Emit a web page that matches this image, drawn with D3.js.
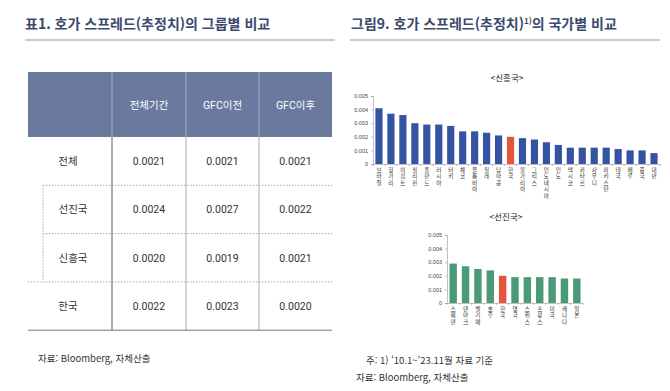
<!DOCTYPE html>
<html lang="ko">
<head>
<meta charset="UTF-8">
<title>호가 스프레드 비교</title>
<script src="https://d3js.org/d3.v7.min.js"></script>
<style>
    body {margin: 0; background: #fff;}
    text {font-family: Roboto, 'Noto Sans CJK KR', sans-serif;}
    .title {font-family: 'Noto Sans CJK KR', sans-serif; font-weight: 700; font-size: 14px; fill: #3b4a6e;}
    .note {font-family: 'Noto Sans CJK KR', sans-serif; font-size: 9.5px; fill: #333;}
    .cell {font-size: 10.5px; fill: #333;}
    .head {font-size: 10.5px; fill: #fff;}
    .axis text {font-size: 5.5px; fill: #444; font-family: Arial, sans-serif;}
    .axis path, .axis line {stroke: #999; stroke-width: 0.6;}
    .ctitle {font-family: 'Noto Sans CJK KR', sans-serif; font-size: 8.5px; fill: #222;}
    .xlab {font-family: 'Noto Sans CJK KR', sans-serif; font-size: 5.6px; fill: #333;
           writing-mode: vertical-rl; text-orientation: upright; letter-spacing: 0.8px;}
</style>
</head>
<body>
<script>
    const width = 670, height = 391;

    // table data
    const colLabels = ["전체기간", "GFC이전", "GFC이후"];
    const rowLabels = ["전체", "선진국", "신흥국", "한국"];
    const colAll  = ["0.0021", "0.0024", "0.0020", "0.0022"];
    const colPre  = ["0.0021", "0.0027", "0.0019", "0.0023"];
    const colPost = ["0.0021", "0.0022", "0.0021", "0.0020"];

    // chart data
    const emCountries = ["브라질","헝가리","이집트","필리핀","폴란드","러시아","터키","체코","콜롬비아","칠레","남아공",
        "한국","불가리아","그리스","인도네시아","인도","멕시코","카타르","사우디","파키스탄","태국","페루","중국","대만"];
    const emValues = [0.0041,0.0037,0.0036,0.0030,0.0029,0.0029,0.0028,0.0024,0.0024,0.0023,0.0021,
        0.0020,0.0019,0.0018,0.0016,0.0014,0.0012,0.0012,0.0012,0.0012,0.0011,0.0010,0.0010,0.0008];
    const dmCountries = ["스웨덴","덴마크","벨기에","호주","한국","영국","스위스","프랑스","미국","캐나다","일본"];
    const dmValues = [0.0029,0.0027,0.0025,0.0024,0.0020,0.0019,0.0019,0.0019,0.0019,0.0018,0.0018];
    const yTicks = [0, 0.001, 0.002, 0.003, 0.004, 0.005];

    const svg = d3.select("body").append("svg")
        .attr("width", width).attr("height", height);

    // titles
    svg.append("text").attr("class", "title").attr("x", 25).attr("y", 29)
        .text("표1. 호가 스프레드(추정치)의 그룹별 비교");
    const t2 = svg.append("text").attr("class", "title").attr("x", 351).attr("y", 29);
    t2.append("tspan").text("그림9. 호가 스프레드(추정치)");
    t2.append("tspan").attr("font-size", "8px").attr("dy", -5).text("1)");
    t2.append("tspan").attr("dy", 5).text("의 국가별 비교");
    [[25, 335], [350, 660]].forEach(([a, b]) =>
        svg.append("line").attr("x1", a).attr("x2", b).attr("y1", 40).attr("y2", 40)
            .attr("stroke", "#8e97ab").attr("stroke-width", 1));

    // ---- table ----
    const colX = [28, 112, 186, 259, 332];
    const headTop = 72, headBot = 137, rowH = 48.3;
    const tbl = svg.append("g");
    tbl.append("rect").attr("x", colX[0]).attr("y", headTop)
        .attr("width", colX[4] - colX[0]).attr("height", headBot - headTop).attr("fill", "#6a7a9e");
    colX.slice(1, 4).forEach((x, i) => {
        tbl.append("line").attr("x1", x).attr("x2", x).attr("y1", headTop).attr("y2", headBot)
            .attr("stroke", "#a3aec6").attr("stroke-width", 1);
        tbl.append("line").attr("x1", x).attr("x2", x).attr("y1", headBot).attr("y2", headBot + rowH * 4)
            .attr("stroke", i == 0 ? "#999" : "#aaa").attr("stroke-width", i == 0 ? 1.6 : 1);
    });
    colLabels.forEach((c, i) => tbl.append("text").attr("class", "head")
        .attr("x", (colX[i + 1] + colX[i + 2]) / 2).attr("y", (headTop + headBot) / 2 + 4)
        .attr("text-anchor", "middle").text(c));
    const cols = [colAll, colPre, colPost];
    rowLabels.forEach((r, j) => {
        const cy = headBot + rowH * (j + 0.5) + 4;
        tbl.append("text").attr("class", "cell").attr("text-anchor", "middle")
            .attr("x", (j == 1 || j == 2) ? 73 : 68).attr("y", cy).text(r);
        cols.forEach((col, i) => tbl.append("text").attr("class", "cell").attr("text-anchor", "middle")
            .attr("x", (colX[i + 1] + colX[i + 2]) / 2).attr("y", cy).text(col[j]));
    });
    // dotted separators
    [[1, 43], [2, 43], [3, colX[0]]].forEach(([k, x0]) =>
        tbl.append("line").attr("x1", x0).attr("x2", colX[4])
            .attr("y1", headBot + rowH * k).attr("y2", headBot + rowH * k)
            .attr("stroke", "#999").attr("stroke-width", 0.8).attr("stroke-dasharray", "1.5 1.5"));
    tbl.append("line").attr("x1", 43).attr("x2", 43)
        .attr("y1", headBot + rowH).attr("y2", headBot + rowH * 3)
        .attr("stroke", "#999").attr("stroke-width", 0.8).attr("stroke-dasharray", "1.5 1.5");
    tbl.append("line").attr("x1", colX[0]).attr("x2", colX[4])
        .attr("y1", headBot + rowH * 4).attr("y2", headBot + rowH * 4)
        .attr("stroke", "#777").attr("stroke-width", 1);

    // ---- bar charts ----
    function barChart(cfg) {
        const g = svg.append("g");
        const x = d3.scaleBand().domain(cfg.names).range([cfg.x0, cfg.x1]).paddingInner(0.4).paddingOuter(0.2);
        const y = d3.scaleLinear().domain([0, 0.005]).range([cfg.y0, cfg.y1]);
        g.append("text").attr("class", "ctitle").attr("text-anchor", "middle")
            .attr("x", cfg.tx).attr("y", cfg.ty).text(cfg.title);
        g.append("g").attr("class", "axis").attr("transform", `translate(${cfg.x0},0)`)
            .call(d3.axisLeft(y).tickValues(yTicks).tickSize(2).tickPadding(3)
                .tickFormat(d => d === 0 ? "0" : d3.format(".3f")(d)));
        g.selectAll("rect").data(cfg.values).join("rect")
            .attr("x", (d, i) => x(cfg.names[i]))
            .attr("width", x.bandwidth())
            .attr("y", d => y(d))
            .attr("height", d => y(0) - y(d))
            .attr("fill", (d, i) => cfg.names[i] == "한국" ? "#e4553f" : cfg.color);
        g.append("g").attr("class", "axis").attr("transform", `translate(0,${cfg.y0})`)
            .call(d3.axisBottom(x).tickSize(0).tickFormat(""));
        // ticks between bars
        g.selectAll("line.sep").data(d3.range(cfg.names.length + 1)).join("line").attr("class", "sep")
            .attr("x1", i => cfg.x0 + i * x.step()).attr("x2", i => cfg.x0 + i * x.step())
            .attr("y1", cfg.y0).attr("y2", cfg.y0 + 2).attr("stroke", "#999").attr("stroke-width", 0.6);
        // vertical (stacked) labels
        g.selectAll("text.xlab").data(cfg.names).join("text").attr("class", "xlab")
            .attr("x", n => x(n) + x.bandwidth() / 2).attr("y", cfg.y0 + 3)
            .text(n => n);
    }

    barChart({names: emCountries, values: emValues, color: "#3553a3", title: "<신흥국>",
        tx: 507, ty: 81, x0: 373, x1: 660, y0: 164, y1: 96});
    barChart({names: dmCountries, values: dmValues, color: "#4a9a78", title: "<선진국>",
        tx: 506, ty: 220, x0: 447, x1: 583, y0: 303, y1: 235});

    // notes
    svg.append("text").attr("class", "note").attr("x", 38).attr("y", 362).text("자료: Bloomberg, 자체산출");
    svg.append("text").attr("class", "note").attr("x", 366).attr("y", 364).text("주: 1) ‘10.1~’23.11월 자료 기준");
    svg.append("text").attr("class", "note").attr("x", 356).attr("y", 381).text("자료: Bloomberg, 자체산출");
</script>
</body>
</html>
